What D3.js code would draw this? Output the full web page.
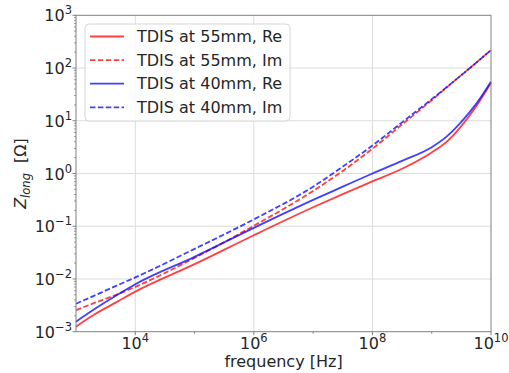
<!DOCTYPE html>
<meta charset='utf-8'>
<head>
    <title>Zlong</title>
    <script src='https://cdn.jsdelivr.net/npm/d3@7/dist/d3.min.js'></script>
</head>

<style>
    body { margin: 0; background: #fff; }
    text { font-family: 'DejaVu Sans', sans-serif; fill: #262626; }
    .grid line { stroke: #dcdcdc; stroke-width: 1px; }
    .curve { fill: none; stroke-width: 1.8px; }
</style>

<svg></svg>

<script>

    // frequencies [Hz]
    var freq = [1e3, 2e3, 5e3, 1e4, 1e5, 1e6, 1e7, 3.16e7, 1e8, 3.16e8, 1e9, 1.78e9, 3.16e9, 5.62e9, 1e10];

    // Z_long values [Ohm]
    var re55 = [1.245e-3, 2.09e-3, 3.72e-3, 5.75e-3, 1.91e-2, 6.76e-2, 0.229, 0.407, 0.708, 1.23, 2.51, 3.98, 7.94, 18.6, 52.5];
    var im55 = [2.57e-3, 3.47e-3, 5.13e-3, 7.08e-3, 2.51e-2, 0.102, 0.468, 1.12, 2.95, 8.51, 24.5, 42.7, 73.3, 126, 219];
    var re40 = [1.55e-3, 2.63e-3, 5.01e-3, 7.94e-3, 2.63e-2, 9.33e-2, 0.316, 0.562, 1.0, 1.74, 3.16, 5.01, 9.55, 20.9, 55];
    var im40 = [3.39e-3, 4.79e-3, 7.59e-3, 1.07e-2, 3.72e-2, 0.135, 0.562, 1.35, 3.39, 9.33, 25.7, 43.2, 73.3, 126, 219];

    var seriesNames = ['TDIS at 55mm, Re', 'TDIS at 55mm, Im', 'TDIS at 40mm, Re', 'TDIS at 40mm, Im'];
    var seriesValues = [re55, im55, re40, im40];

    var xMajor = [1e4, 1e6, 1e8, 1e10];
    var xMinor = [1e5, 1e7, 1e9];
    var yMajor = [1e-3, 1e-2, 1e-1, 1e0, 1e1, 1e2, 1e3];

    var vWidth = 509;
    var vHeight = 373;
    var colors = ['rgba(255,0,0,0.75)', 'rgba(255,0,0,0.75)', 'rgba(0,0,255,0.75)', 'rgba(0,0,255,0.75)'];
    var dashes = [null, '5.5,2.4', null, '5.5,2.4'];

    var svg = d3.select('svg').attr('width', vWidth).attr('height', vHeight);

    var pLeft = 76, pRight = 491, pTop = 15.3, pBottom = 331.7;

    var x = d3.scaleLog().domain([1e3, 1e10]).range([pLeft, pRight]);
    var y = d3.scaleLog().domain([1e-3, 1e3]).range([pBottom, pTop]);

    // grid
    var grid = svg.append('g').attr('class', 'grid');
    grid.selectAll('.gx').data(xMajor.filter(function (d) { return d < 1e10; })).enter().append('line')
        .attr('x1', function (d) { return x(d); }).attr('x2', function (d) { return x(d); })
        .attr('y1', pTop).attr('y2', pBottom);
    grid.selectAll('.gy').data(yMajor.slice(1, -1)).enter().append('line')
        .attr('y1', function (d) { return y(d); }).attr('y2', function (d) { return y(d); })
        .attr('x1', pLeft).attr('x2', pRight);

    // curves
    var line = d3.line()
        .x(function (d) { return x(d[0]); })
        .y(function (d) { return y(d[1]); })
        .curve(d3.curveMonotoneX);

    var plot = svg.append('g');
    seriesValues.forEach(function (vals, i) {
        var pts = freq.map(function (f, j) { return [f, vals[j]]; });
        plot.append('path').attr('class', 'curve')
            .attr('d', line(pts))
            .attr('stroke', colors[i])
            .attr('stroke-dasharray', dashes[i]);
    });

    // frame
    svg.append('rect').attr('x', pLeft).attr('y', pTop)
        .attr('width', pRight - pLeft).attr('height', pBottom - pTop)
        .attr('fill', 'none').attr('stroke', '#808080').attr('stroke-width', 1);

    // ticks
    var ticks = svg.append('g').attr('stroke', '#808080');
    ticks.selectAll('.tx').data(xMajor).enter().append('line')
        .attr('x1', function (d) { return x(d); }).attr('x2', function (d) { return x(d); })
        .attr('y1', pBottom).attr('y2', pBottom + 3.5);
    ticks.selectAll('.txm').data(xMinor).enter().append('line')
        .attr('x1', function (d) { return x(d); }).attr('x2', function (d) { return x(d); })
        .attr('y1', pBottom).attr('y2', pBottom + 2);
    ticks.selectAll('.ty').data(yMajor).enter().append('line')
        .attr('y1', function (d) { return y(d); }).attr('y2', function (d) { return y(d); })
        .attr('x1', pLeft - 3.5).attr('x2', pLeft);
    ticks.selectAll('.tym').data(y.ticks().filter(function (d) {
        return yMajor.indexOf(d) < 0;
    })).enter().append('line')
        .attr('y1', function (d) { return y(d); }).attr('y2', function (d) { return y(d); })
        .attr('x1', pLeft - 2).attr('x2', pLeft).attr('stroke-width', 0.8);

    function expOf(d) {
        var e = Math.round(Math.log10(d));
        return e < 0 ? '\u2212' + (-e) : '' + e;
    }

    // tick labels
    var xl = svg.selectAll('.xl').data(xMajor).enter().append('text')
        .attr('x', function (d) { return x(d); })
        .attr('y', 349)
        .attr('text-anchor', 'middle')
        .style('font-size', '16px');
    xl.append('tspan').text('10');
    xl.append('tspan').attr('dy', -7).style('font-size', '11.5px').text(expOf);

    var yl = svg.selectAll('.yl').data(yMajor).enter().append('text')
        .attr('x', 72)
        .attr('y', function (d) { return y(d) + 6; })
        .attr('text-anchor', 'end')
        .style('font-size', '16px');
    yl.append('tspan').text('10');
    yl.append('tspan').attr('dy', -7).style('font-size', '11.5px').text(expOf);

    // axis titles
    svg.append('text').attr('x', (pLeft + pRight) / 2).attr('y', 367)
        .attr('text-anchor', 'middle').style('font-size', '16px')
        .text('frequency [Hz]');

    var yt = svg.append('text')
        .attr('transform', 'translate(26,' + ((pTop + pBottom) / 2) + ') rotate(-90)')
        .attr('text-anchor', 'middle').style('font-size', '16px');
    yt.append('tspan').style('font-style', 'italic').text('Z');
    yt.append('tspan').attr('dy', 4).style('font-size', '11.5px').style('font-style', 'italic').text('long');
    yt.append('tspan').attr('dy', -4).text('\u00a0\u00a0[\u03a9]');

    // legend
    var lg = svg.append('g');
    lg.append('rect').attr('x', 85).attr('y', 24).attr('width', 205).attr('height', 97)
        .attr('rx', 4).attr('fill', 'rgba(255,255,255,0.85)')
        .attr('stroke', '#d6d6d6').attr('stroke-width', 1);
    seriesNames.forEach(function (name, i) {
        var ly = 36.5 + i * 23.6;
        lg.append('line').attr('x1', 90).attr('x2', 124).attr('y1', ly).attr('y2', ly)
            .attr('stroke', colors[i]).attr('stroke-width', 1.8)
            .attr('stroke-dasharray', dashes[i]);
        lg.append('text').attr('x', 137).attr('y', ly + 5.5)
            .style('font-size', '16px').text(name);
    });
</script>
